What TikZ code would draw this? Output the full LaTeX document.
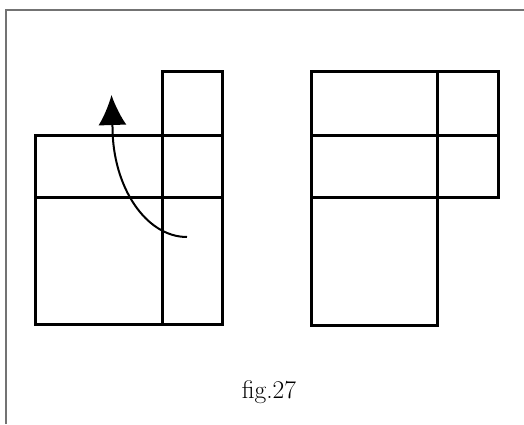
\documentclass[tikz,border=0pt]{standalone}
\usetikzlibrary{arrows.meta}
\begin{document}
\begin{tikzpicture}[x=1pt,y=-1pt,
  gridline/.style={line width=3pt, line cap=rect, line join=miter},
  frameline/.style={draw=black!55, line width=1.3pt},
  turnarrow/.style={line width=2pt, -{Latex[length=30pt,width=28pt]}}]
\useasboundingbox (0,0) rectangle (524,424);
\draw[frameline] (6,424) -- (6,10) -- (524,10);
% left figure
\draw[gridline] (35.5,135.5) rectangle (222.5,324.5);
\draw[gridline] (162.5,71.5) rectangle (222.5,135.5);
\draw[gridline] (162.5,135.5) -- (162.5,324.5);
\draw[gridline] (35.5,197) -- (222.5,197);
% right figure
\draw[gridline] (311,71.5) -- (498,71.5) -- (498,197) -- (437,197) -- (437,325) -- (311,325) -- cycle;
\draw[gridline] (311,135) -- (498,135);
\draw[gridline] (311,197) -- (437,197);
\draw[gridline] (437,71.5) -- (437,197);
% arrow
\coordinate (astart) at (187,237);
\coordinate (abend) at (112.5,127);
\coordinate (atip) at (111.5,95);
\draw[turnarrow] (astart) .. controls (146,237) and (112.5,187) .. (abend) -- (atip);
% caption
\node[anchor=base, inner sep=0pt] (cap) at (269,398) {\fontsize{25.5}{30}\selectfont fig.27};
\end{tikzpicture}
\end{document}
